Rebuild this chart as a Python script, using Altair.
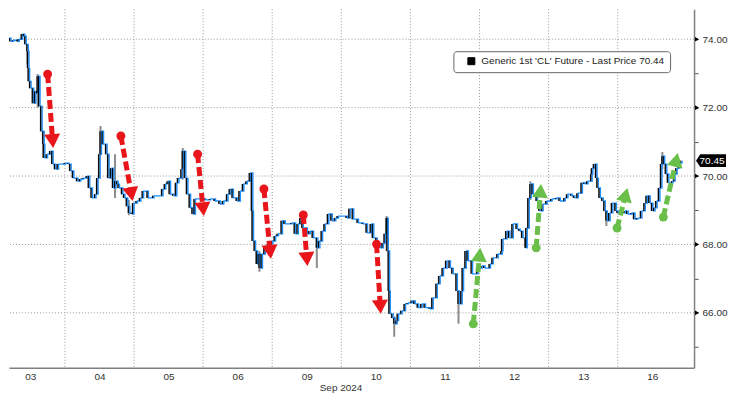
import math
import altair as alt
import pandas as pd

# ---------------- data ----------------
day_labels = ["03", "04", "05", "06", "09", "10", "11", "12", "13", "16"]
month_label = "Sep 2024"
series_name = "Generic 1st 'CL' Future - Last Price 70.44"
last_price = 70.45
y_major = [66, 68, 70, 72, 74]
y_ticks = [65, 66, 67, 68, 69, 70, 71, 72, 73, 74]

# session time in trading days (day k spans [k, k+1]) and close price
t_vals = [0.08, 0.12, 0.18, 0.22, 0.26, 0.32, 0.34, 0.39, 0.42, 0.44, 0.47, 0.48, 0.49, 0.51, 0.55, 0.58, 0.61, 0.62,
          0.64, 0.67, 0.70, 0.71, 0.75, 0.80, 0.83, 0.87, 0.91, 0.97, 1.01, 1.06, 1.09, 1.13, 1.19, 1.23, 1.27, 1.33,
          1.36, 1.40, 1.45, 1.48, 1.51, 1.53, 1.56, 1.61, 1.64, 1.68, 1.71, 1.74, 1.77, 1.79, 1.84, 1.87, 1.91, 1.94,
          1.98, 2.00, 2.05, 2.10, 2.14, 2.21, 2.29, 2.36, 2.42, 2.46, 2.50, 2.53, 2.58, 2.62, 2.65, 2.70, 2.72, 2.75,
          2.78, 2.82, 2.86, 2.89, 2.96, 3.04, 3.11, 3.18, 3.25, 3.30, 3.36, 3.40, 3.44, 3.50, 3.54, 3.59, 3.64, 3.69,
          3.72, 3.73, 3.76, 3.79, 3.80, 3.83, 3.86, 3.90, 3.95, 4.01, 4.05, 4.09, 4.15, 4.19, 4.24, 4.29, 4.34, 4.38,
          4.42, 4.45, 4.51, 4.55, 4.60, 4.66, 4.69, 4.73, 4.77, 4.82, 4.87, 4.92, 4.96, 5.02, 5.09, 5.13, 5.18, 5.25,
          5.32, 5.38, 5.44, 5.47, 5.52, 5.57, 5.61, 5.64, 5.67, 5.68, 5.70, 5.71, 5.75, 5.78, 5.81, 5.83, 5.88, 5.93,
          5.97, 6.03, 6.07, 6.12, 6.17, 6.22, 6.25, 6.29, 6.33, 6.39, 6.43, 6.48, 6.53, 6.58, 6.62, 6.68, 6.71, 6.75,
          6.77, 6.81, 6.84, 6.90, 6.94, 6.98, 7.04, 7.08, 7.16, 7.20, 7.27, 7.33, 7.34, 7.40, 7.44, 7.49, 7.55, 7.59,
          7.63, 7.68, 7.69, 7.72, 7.75, 7.78, 7.84, 7.88, 7.92, 7.98, 8.05, 8.12, 8.17, 8.24, 8.28, 8.34, 8.38, 8.43,
          8.49, 8.53, 8.57, 8.63, 8.64, 8.67, 8.70, 8.72, 8.75, 8.79, 8.82, 8.85, 8.89, 8.93, 8.98, 9.01, 9.06, 9.11,
          9.15, 9.21, 9.25, 9.29, 9.35, 9.40, 9.43, 9.47, 9.51, 9.54, 9.57, 9.61, 9.64, 9.66, 9.68, 9.71, 9.74, 9.80,
          9.83, 9.86, 9.90, 9.93]
close_vals = [73.71, 73.94, 74.03, 73.94, 73.97, 73.94, 74.00, 74.15, 74.09, 73.85, 73.65, 73.15, 72.77, 72.57, 72.13,
              72.48, 72.42, 72.92, 72.04, 71.31, 70.93, 70.53, 70.64, 70.73, 70.35, 70.20, 70.35, 70.35, 70.38, 70.35,
              70.15, 69.94, 69.85, 69.91, 69.94, 70.00, 69.65, 69.36, 69.47, 69.94, 70.64, 71.31, 70.93, 70.64, 69.94,
              70.23, 69.65, 69.85, 69.76, 69.65, 69.47, 69.36, 69.12, 68.92, 68.89, 69.21, 69.27, 69.36, 69.56, 69.36,
              69.42, 69.42, 69.62, 69.77, 69.85, 69.47, 69.42, 69.80, 69.94, 70.20, 70.73, 69.94, 69.47, 69.07, 68.89,
              69.33, 69.33, 69.30, 69.33, 69.27, 69.18, 69.27, 69.47, 69.62, 69.36, 69.27, 69.56, 69.77, 69.85, 70.09,
              68.98, 68.10, 67.81, 67.43, 67.72, 67.31, 67.72, 67.90, 68.01, 68.10, 68.25, 68.31, 68.69, 68.60, 68.60,
              68.63, 68.31, 68.60, 68.77, 68.48, 68.31, 68.39, 68.19, 67.90, 68.10, 68.39, 68.60, 68.89, 68.69, 68.77,
              68.83, 68.83, 68.77, 69.04, 68.74, 68.63, 68.60, 68.34, 68.60, 68.19, 68.01, 67.90, 68.04, 68.31, 68.77,
              67.81, 66.64, 65.97, 65.85, 65.68, 65.77, 65.97, 66.06, 66.26, 66.29, 66.35, 66.26, 66.15, 66.26, 66.15,
              66.15, 66.12, 66.44, 66.85, 67.08, 67.31, 67.52, 67.31, 67.14, 66.64, 66.26, 66.64, 67.31, 67.81, 67.52,
              67.14, 67.14, 67.31, 67.37, 67.31, 67.43, 67.61, 67.72, 67.81, 68.16, 68.39, 68.19, 68.60, 68.45, 68.39,
              68.19, 67.90, 68.48, 69.36, 69.77, 69.47, 69.27, 68.98, 69.18, 69.27, 69.33, 69.36, 69.27, 69.36, 69.47,
              69.42, 69.36, 69.50, 69.80, 69.77, 69.85, 70.06, 70.23, 70.35, 69.94, 69.65, 69.36, 69.27, 68.98, 68.69,
              68.92, 69.21, 68.98, 68.92, 68.92, 68.98, 68.89, 68.92, 68.74, 68.77, 68.98, 69.21, 69.42, 69.21, 68.98,
              69.07, 69.27, 69.65, 70.35, 70.58, 70.35, 70.06, 69.80, 69.85, 70.06, 70.23, 70.38, 70.45]

# notable high/low wicks
wick_t = [0.47, 0.62, 0.70, 1.53, 1.74, 1.94, 2.72, 3.83, 4.66, 5.67, 5.78, 6.71, 7.75, 8.85, 9.66]
wick_low = [73.27, 72.00, 70.55, 70.60, 69.36, 68.85, 69.90, 67.20, 67.31, 67.80, 65.30, 65.68, 69.30, 68.54, 70.20]
wick_high = [73.75, 72.98, 71.30, 71.46, 70.64, 69.30, 70.82, 67.80, 68.00, 68.83, 65.90, 66.60, 69.85, 68.95, 70.70]

# annotation arrows (start dot -> arrow tip), in session days / price
down_start_t = [0.75, 1.81, 2.92, 3.88, 4.45, 5.51]
down_start_p = [72.98, 71.17, 70.64, 69.62, 68.86, 68.01]
down_tip_t = [0.83, 1.98, 3.01, 3.98, 4.51, 5.57]
down_tip_p = [70.82, 69.27, 68.83, 67.58, 67.37, 65.97]
up_start_t = [6.91, 7.82, 8.99, 9.66]
up_start_p = [65.68, 67.90, 68.48, 68.80]
up_tip_t = [7.01, 7.89, 9.14, 9.87]
up_tip_p = [67.90, 69.77, 69.65, 70.67]

# ---------------- layout / style ----------------
DAY_PX = 69.2                 # pixels per trading day
W, H = 686, 359
X0 = 0.191
X1 = X0 + W / DAY_PX
Y0, Y1 = 64.394, 74.876
FONT = "Liberation Sans"
BLUE = "#1e8fff"
RED = "#e8151b"
GREEN = "#6abf4b"
GRID = "#9a9a9a"

xs = alt.Scale(domain=[X0, X1], nice=False, zero=False)
ys = alt.Scale(domain=[Y0, Y1], nice=False, zero=False)

price = pd.DataFrame({"t": t_vals, "close": close_vals})
price["prev"] = price["close"].shift(1).fillna(price["close"])
price["series"] = series_name

wicks = pd.DataFrame({"t": wick_t, "lo": wick_low, "hi": wick_high})

label_arr = "[" + ",".join("'%s'" % d for d in day_labels) + "]"
x_axis = alt.Axis(
    values=[i + 0.5 for i in range(len(day_labels))],
    labelExpr=label_arr + "[floor(datum.value)]",
    ticks=False, grid=False, domainColor="#808080", domainWidth=1.5,
    labelFont=FONT, labelFontSize=10, labelColor="#333", labelPadding=4,
    title=month_label, titleFont=FONT, titleFontSize=10, titleFontWeight="normal",
    titleColor="#333", titleX=332, titleAlign="center", titlePadding=1,
)
y_axis = alt.Axis(
    orient="right", values=y_ticks,
    labelExpr="datum.value % 2 == 0 ? format(datum.value, '.2f') : ''",
    tickSize=4, tickColor="#555", tickWidth=1, grid=False,
    domainColor="#808080", domainWidth=1.5,
    labelFont=FONT, labelFontSize=10, labelColor="#333", labelPadding=4, title=None,
)


def X(field):
    return alt.X(field, scale=xs, axis=x_axis)


def Y(field):
    return alt.Y(field, scale=ys, axis=y_axis)


hgrid = alt.Chart(pd.DataFrame({"y": y_major})).mark_rule(
    color=GRID, strokeDash=[1, 2], strokeWidth=1
).encode(y=Y("y:Q"))

vgrid = alt.Chart(pd.DataFrame({"x": list(range(1, len(day_labels)))})).mark_rule(
    color=GRID, strokeDash=[1, 2], strokeWidth=1
).encode(x=X("x:Q"))

bodies_gray = alt.Chart(price).mark_rule(color="#8c8c8c", strokeWidth=2.6, xOffset=-1, clip=True).encode(
    x=X("t:Q"), y=Y("prev:Q"), y2="close:Q",
)
wick_layer = alt.Chart(wicks).mark_rule(color="#8c8c8c", strokeWidth=2, xOffset=-1, clip=True).encode(
    x=X("t:Q"), y=Y("lo:Q"), y2="hi:Q",
)
line = alt.Chart(price).mark_line(color=BLUE, strokeWidth=1.3, interpolate="step-after", clip=True).encode(
    x=X("t:Q"), y=Y("close:Q"),
)
bodies_black = alt.Chart(price).mark_rule(strokeWidth=1.1, xOffset=-1.5, clip=True).encode(
    x=X("t:Q"), y=Y("prev:Q"), y2="close:Q",
    color=alt.Color(
        "series:N",
        scale=alt.Scale(domain=[series_name], range=["#000000"]),
        legend=alt.Legend(
            orient="none", legendX=445, legendY=42, title=None,
            symbolType="square", symbolFillColor="#000", symbolStrokeColor="#000",
            symbolSize=49, symbolStrokeWidth=1, symbolOffset=8,
            labelFont=FONT, labelFontSize=10, labelColor="#222", labelOffset=5, labelLimit=400,
            strokeColor="#666", fillColor="white", padding=5, cornerRadius=3,
        ),
    ),
)

# arrows
kx = W / (X1 - X0)
ky = H / (Y1 - Y0)
HEAD = 256
h_tip = math.sqrt(3) * (math.sqrt(HEAD) / 2) / 2


def arrow_frame(st, sp, tt, tp):
    rows = []
    for a, b, c, d in zip(st, sp, tt, tp):
        dx = (c - a) * kx
        dy = -(d - b) * ky
        L = math.hypot(dx, dy)
        ux, uy = dx / L, dy / L
        ct = c - ux * h_tip / kx
        cp = d + uy * h_tip / ky
        ang = math.degrees(math.atan2(ux, -uy)) % 360
        rows.append({"st": a, "sp": b, "ct": ct, "cp": cp, "ang": ang})
    return pd.DataFrame(rows)


arrow_layers = []
for st, sp, tt, tp, col in [
    (down_start_t, down_start_p, down_tip_t, down_tip_p, RED),
    (up_start_t, up_start_p, up_tip_t, up_tip_p, GREEN),
]:
    df = arrow_frame(st, sp, tt, tp)
    shaft = alt.Chart(df).mark_rule(color=col, strokeWidth=5, strokeDash=[9, 4]).encode(
        x=X("st:Q"), y=Y("sp:Q"), x2="ct:Q", y2="cp:Q",
    )
    dot = alt.Chart(df).mark_point(shape="circle", filled=True, color=col, size=80, opacity=1).encode(
        x=X("st:Q"), y=Y("sp:Q"),
    )
    head = alt.Chart(df).mark_point(shape="triangle-up", filled=True, color=col, size=HEAD, opacity=1).encode(
        x=X("ct:Q"), y=Y("cp:Q"), angle=alt.Angle("ang:Q", scale=None),
    )
    arrow_layers += [shaft, dot, head]

# right axis triangle markers
edge = pd.DataFrame({"x": [X1] * len(y_major), "y": y_major})
tri = alt.Chart(edge).mark_point(shape="triangle-right", filled=True, color="#000", size=22, xOffset=3, opacity=1).encode(
    x=X("x:Q"), y=Y("y:Q"),
)

tag_df = pd.DataFrame({"x": [X1], "y": [last_price], "txt": ["%.2f" % last_price]})
tag = alt.Chart(tag_df).mark_point(
    shape="M-1,0 L-0.72,-0.42 L1,-0.42 L1,0.42 L-0.72,0.42 Z", filled=True, color="#000",
    size=900, xOffset=17, opacity=1,
).encode(x=X("x:Q"), y=Y("y:Q"))
tag_txt = alt.Chart(tag_df).mark_text(
    color="white", font=FONT, fontSize=10, xOffset=18, align="center", baseline="middle"
).encode(x=X("x:Q"), y=Y("y:Q"), text="txt:N")

chart = alt.layer(
    hgrid, vgrid, bodies_gray, wick_layer, line, bodies_black, *arrow_layers, tri, tag, tag_txt
).properties(width=W, height=H, padding=0, background="white").configure_view(stroke=None)

chart.save("out.html", embed_options={"renderer": "svg", "actions": False})
